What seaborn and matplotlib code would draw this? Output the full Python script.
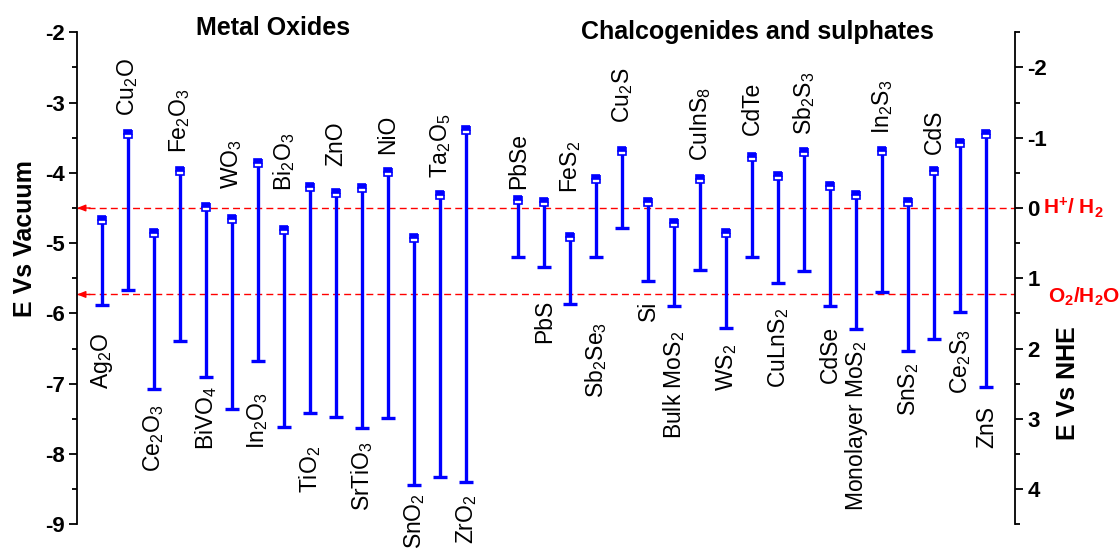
import matplotlib
matplotlib.use('Agg')
import matplotlib.pyplot as plt
import numpy as np
import pandas as pd
import seaborn as sns
from matplotlib.ticker import MultipleLocator

# Band edges (E vs vacuum, eV)
oxide_names = ['Ag$_2$O', 'Cu$_2$O', 'Ce$_2$O$_3$', 'Fe$_2$O$_3$', 'BiVO$_4$', 'WO$_3$',
               'In$_2$O$_3$', 'Bi$_2$O$_3$', 'TiO$_2$', 'ZnO', 'SrTiO$_3$', 'NiO',
               'SnO$_2$', 'Ta$_2$O$_5$', 'ZrO$_2$']
oxide_cb = [-4.67, -3.45, -4.86, -3.98, -4.48, -4.66, -3.86, -4.81, -4.20, -4.28,
            -4.22, -3.99, -4.93, -4.31, -3.39]
oxide_vb = [-5.88, -5.67, -7.07, -6.39, -6.90, -7.36, -6.67, -7.62, -7.41, -7.48,
            -7.63, -7.49, -8.44, -8.32, -8.40]

chalc_names = ['PbSe', 'PbS', 'FeS$_2$', 'Sb$_2$Se$_3$', 'Cu$_2$S', 'Si', 'Bulk MoS$_2$',
               'CuInS$_8$', 'WS$_2$', 'CdTe', 'CuLnS$_2$', 'Sb$_2$S$_3$', 'CdSe',
               'Monolayer MoS$_2$', 'In$_2$S$_3$', 'SnS$_2$', 'CdS', 'Ce$_2$S$_3$', 'ZnS']
chalc_cb = [-4.39, -4.42, -4.91, -4.09, -3.69, -4.42, -4.72, -4.09, -4.85, -3.78,
            -4.05, -3.71, -4.19, -4.31, -3.69, -4.42, -3.97, -3.58, -3.45]
chalc_vb = [-5.19, -5.34, -5.87, -5.19, -4.79, -5.54, -5.89, -5.38, -6.20, -5.19,
            -5.56, -5.40, -5.89, -6.22, -5.70, -6.53, -6.37, -5.98, -7.05]

# where each name sits: above the CB marker or below the VB cap
oxide_side = ['below', 'above'] * 7 + ['below']
chalc_side = ['above', 'below', 'above', 'below', 'above', 'below', 'below', 'above',
              'below', 'above', 'below', 'above', 'below', 'below', 'above', 'below',
              'above', 'below', 'below']
# gap between bar end and its label, in pixels
oxide_gap = [25, 14, 13, 14, 6, 26, 29, 35, 31, 22, 10, 14, 5, 12, 9]
chalc_gap = [7, 30, 40, 63, 24, 17, 22, 14, 14, 18, 23, 13, 17, 9, 13, 9, 13, 15, 16]

groups = ['Metal Oxides', 'Chalcogenides and sulphates']
H2_level = -4.5    # H+/H2 vs vacuum
O2_level = -5.73   # O2/H2O vs vacuum

df = pd.DataFrame({
    'name': oxide_names + chalc_names,
    'cb': oxide_cb + chalc_cb,
    'vb': oxide_vb + chalc_vb,
    'side': oxide_side + chalc_side,
    'gap': oxide_gap + chalc_gap,
    'group': [groups[0]] * len(oxide_names) + [groups[1]] * len(chalc_names),
})
# one empty slot between the two groups
df['pos'] = np.arange(len(df)) + (df['group'] == groups[1]).astype(int)

sns.set_style('ticks')
plt.rcParams['font.family'] = ['Liberation Sans', 'DejaVu Sans']
plt.rcParams['mathtext.fontset'] = 'custom'
plt.rcParams['mathtext.rm'] = 'Liberation Sans'
plt.rcParams['mathtext.it'] = 'Liberation Sans:italic'
plt.rcParams['mathtext.bf'] = 'Liberation Sans:bold'
for k in ['text.color', 'axes.labelcolor', 'xtick.color', 'ytick.color', 'axes.edgecolor']:
    plt.rcParams[k] = 'black'

fig = plt.figure(figsize=(11.2, 5.52), dpi=100)
ax = fig.add_axes([77 / 1120, 27.7 / 552, 938 / 1120, 492 / 552])

# bars: CB -> VB
ax.vlines(df['pos'], df['vb'], df['cb'], color='blue', lw=2.4, zorder=2)
sns.scatterplot(data=df, x='pos', y='vb', marker='_', s=110, color='blue',
                edgecolor='blue', linewidth=2.4, ax=ax, legend=False, zorder=3)
ax.plot(df['pos'], df['cb'], ls='none', marker='s', ms=6, mfc='blue',
        markerfacecoloralt='white', fillstyle='top', mec='blue', mew=1.2, zorder=4)

# names
for _, r in df.iterrows():
    off = r['gap'] * 0.72
    if r['side'] == 'above':
        ax.annotate(r['name'], xy=(r['pos'], r['cb']), xytext=(0, off + 3),
                    textcoords='offset points', rotation=90, rotation_mode='anchor',
                    ha='left', va='center', fontsize=16.5)
    else:
        ax.annotate(r['name'], xy=(r['pos'], r['vb']), xytext=(0, -off - 2),
                    textcoords='offset points', rotation=90, rotation_mode='anchor',
                    ha='right', va='center', fontsize=16.5)

# water redox levels
trans = ax.get_yaxis_transform()
for lvl in [H2_level, O2_level]:
    ax.axhline(lvl, color='red', ls=(0, (5, 3)), lw=1, zorder=1)
    ax.annotate('', xy=(0, lvl), xycoords=trans, xytext=(0.014, lvl),
                arrowprops=dict(arrowstyle='-|>,head_length=0.5,head_width=0.2',
                                color='red', lw=1, shrinkA=0, shrinkB=0))
ax.text(1.030, H2_level, r'H$^{\mathbf{+}}$/ H$_{\mathbf{2}}$', transform=trans,
        color='red', fontsize=15, fontweight='bold', ha='left', va='center')
ax.text(1.035, O2_level - 0.03, r'O$_{\mathbf{2}}$/H$_{\mathbf{2}}$O', transform=trans,
        color='red', fontsize=15, fontweight='bold', ha='left', va='center')

# group titles
ax.text(0.209, 1.009, groups[0], transform=ax.transAxes, ha='center', va='center',
        fontsize=18, fontweight='bold')
ax.text(0.7255, 1.001, groups[1], transform=ax.transAxes, ha='center', va='center',
        fontsize=18, fontweight='bold')

# left axis: E vs vacuum
ax.set_xlim(-0.96, 35.1)
ax.set_ylim(-9, -2)
vac_ticks = np.arange(-9, -1)
ax.set_yticks(vac_ticks, labels=[str(t) for t in vac_ticks], fontweight='bold', fontsize=16)
ax.yaxis.set_minor_locator(MultipleLocator(0.5))
ax.set_xticks([])
ax.set_xlabel('')
ax.tick_params(axis='y', which='major', direction='out', length=6, width=1.3, pad=3)
ax.tick_params(axis='y', which='minor', direction='out', length=3.5, width=1.3)
ax.set_ylabel('E Vs Vacuum', fontsize=18, fontweight='bold')
ax.yaxis.set_label_coords(-0.043, 0.58)
sns.despine(ax=ax, top=True, right=True, bottom=True)
ax.spines['left'].set_linewidth(1.3)

# right axis: E vs NHE
ax2 = ax.twinx()
ax2.set_ylim(-4.5 - (-9), -4.5 - (-2))
nhe_ticks = np.arange(-2, 5)
ax2.set_yticks(nhe_ticks, labels=[str(t) for t in nhe_ticks], fontweight='bold', fontsize=16)
ax2.yaxis.set_minor_locator(MultipleLocator(0.5))
ax2.tick_params(axis='y', which='major', direction='out', length=6, width=1.3, pad=3)
ax2.tick_params(axis='y', which='minor', direction='out', length=3.5, width=1.3)
for s in ['left', 'top', 'bottom']:
    ax2.spines[s].set_visible(False)
ax2.spines['right'].set_linewidth(1.3)
ax2.set_ylabel('E Vs NHE', fontsize=18, fontweight='bold')
ax2.yaxis.set_label_coords(1.044, 0.287)

fig.savefig('out.png', dpi=100)
